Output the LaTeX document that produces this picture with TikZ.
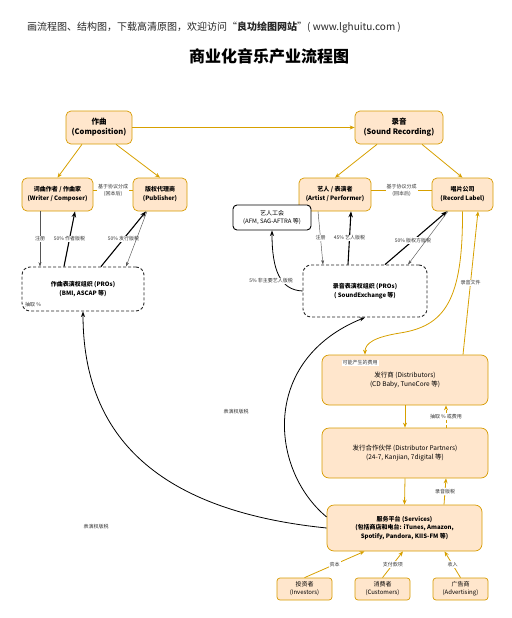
\documentclass[tikz,border=0pt]{standalone}
\usepackage{fontspec}
\setmainfont{Noto Sans CJK SC}
\usetikzlibrary{arrows.meta,calc}
\definecolor{boxfill}{HTML}{FFE6CC}
\definecolor{boxline}{HTML}{D79B00}
\definecolor{gold}{HTML}{D7A000}
\definecolor{lbl}{HTML}{333333}
\definecolor{thin}{HTML}{555555}
\begin{document}
\begin{tikzpicture}[x=1pt,y=-1pt,
  box/.style={draw=boxline, fill=boxfill, rounded corners=5pt, line width=0.7pt, align=center, inner sep=1pt},
  big/.style={box, font=\bfseries\fontsize{7.5}{10}\selectfont},
  mid/.style={box, font=\bfseries\fontsize{6}{9}\selectfont},
  soft/.style={box, rounded corners=7pt, font=\fontsize{6.5}{8.5}\selectfont},
  small/.style={box, rounded corners=3pt, font=\fontsize{6}{8}\selectfont},
  probox/.style={draw=black!85, dash pattern=on 3pt off 2pt, line width=0.9pt, rounded corners=8pt, fill=white, align=center, inner sep=1pt, font=\bfseries\fontsize{6}{9}\selectfont},
  unionbox/.style={draw=black, line width=0.9pt, rounded corners=4pt, fill=white, align=center, inner sep=1pt, minimum width=78, minimum height=25, font=\fontsize{6}{8.5}\selectfont},
  garrow/.style={draw=gold, line width=0.8pt, -{Stealth[length=5pt,width=4pt]}},
  gline/.style={draw=gold, line width=0.8pt},
  barrow/.style={draw=black, line width=1.1pt, -{Stealth[length=6pt,width=4.5pt]}},
  tarrow/.style={draw=thin, line width=0.45pt, -{Stealth[length=4.5pt,width=3pt]}},
  carrow/.style={draw=black, line width=0.8pt, -{Stealth[length=5.5pt,width=4pt]}},
  elabel/.style={font=\fontsize{5}{6.5}\selectfont, text=lbl, fill=white, inner sep=1pt, align=center},
  flabel/.style={font=\fontsize{5}{6.5}\selectfont, text=lbl, inner sep=1pt, align=center}
]
\useasboundingbox (0,0) rectangle (511,618);

% header and title
\node[anchor=west, inner sep=0pt, font=\fontsize{10}{12}\selectfont, text=black!85] (hdr) at (27,27)
  {画流程图、结构图，下载高清原图，欢迎访问“\textbf{良功绘图网站}”( www.lghuitu.com )};
\node[inner sep=0pt, font=\bfseries\fontsize{16}{18}\selectfont] (title) at (269,56) {商业化音乐产业流程图};

% nodes
\node[big, minimum width=66, minimum height=33] (comp) at (99,127.5) {作曲\\(Composition)};
\node[big, minimum width=88, minimum height=33] (rec) at (399,127.5) {录音\\(Sound Recording)};
\node[mid, minimum width=71, minimum height=33] (writer) at (57.5,194.5) {词曲作者 / 作曲家\\(Writer / Composer)};
\node[mid, minimum width=54, minimum height=33] (pub) at (160,194.5) {版权代理商\\(Publisher)};
\node[mid, minimum width=72, minimum height=33] (artist) at (335,194.5) {艺人 / 表演者\\(Artist / Performer)};
\node[mid, minimum width=61, minimum height=33] (label) at (462.5,194.5) {唱片公司\\(Record Label)};
\node[unionbox] (union) at (272,217.5) {艺人工会\\(AFM, SAG-AFTRA 等)};
\node[probox, minimum width=122, minimum height=44] (pro) at (83,289) {作曲表演权组织 (PROs)\\(BMI, ASCAP 等)};
\node[probox, minimum width=124, minimum height=52] (recpro) at (365,291) {录音表演权组织 (PROs)\\( SoundExchange 等)};
\node[soft, minimum width=166, minimum height=50] (dist) at (405,380) {发行商 (Distributors)\\(CD Baby, TuneCore 等)};
\node[soft, minimum width=166, minimum height=50] (partner) at (405,453) {发行合作伙伴 (Distributor Partners)\\(24-7, Kanjian, 7digital 等)};
\node[mid, rounded corners=7pt, minimum width=155, minimum height=46, font=\bfseries\fontsize{6}{8.5}\selectfont] (serv) at (404.5,528) {服务平台 (Services)\\(包括商店和电台: iTunes, Amazon,\\Spotify, Pandora, KIIS-FM 等)};
\node[small, minimum width=55, minimum height=22] (inv) at (304.5,589) {投资者\\(Investors)};
\node[small, minimum width=55, minimum height=22] (cust) at (382.5,589) {消费者\\(Customers)};
\node[small, minimum width=55, minimum height=22] (adv) at (460.5,589) {广告商\\(Advertising)};

% top gold connectors
\draw[garrow] ([xshift=-17pt]comp.south) -- (writer.north);
\draw[garrow] ([xshift=17pt]comp.south) -- (pub.north);
\draw[garrow] (comp.east) -- (rec.west);
\draw[garrow] ([xshift=-22pt]rec.south) -- (artist.north);
\draw[garrow] ([xshift=23pt]rec.south) -- (label.north);
\draw[gline] ([yshift=4pt]writer.east) -- node[elabel] {基于协议分成\\(回本后)} ([yshift=4pt]pub.west);
\draw[gline] ([yshift=4pt]artist.east) -- node[elabel] {基于协议分成\\(回本后)} ([yshift=4pt]label.west);

% composition side PRO
\draw[tarrow] ([xshift=-17.5pt]writer.south) -- node[elabel, pos=0.5] {注册} ([xshift=-43pt]pro.north);
\draw[barrow] ([xshift=-19pt]pro.north) -- node[elabel, pos=0.5] {50\% 作者版税} ([xshift=17.5pt]writer.south);
\draw[barrow] ([xshift=18pt]pro.north) -- node[elabel, pos=0.5] {50\% 发行版税} ([xshift=-14pt]pub.south);
\draw[tarrow] ([xshift=-13pt]pub.south) -- ([xshift=43pt]pro.north);
\node[flabel, anchor=west] (cut) at (24,305) {抽取 \%};

% recording side PRO
\draw[tarrow] ([xshift=-17pt]artist.south) -- node[elabel, pos=0.5] {注册} ([xshift=-42pt]recpro.north);
\draw[barrow] ([xshift=-17pt]recpro.north) -- node[elabel, pos=0.5] {45\% 艺人版税} ([xshift=16pt]artist.south);
\draw[barrow] ([xshift=20pt]recpro.north) -- node[elabel, pos=0.45] {50\% 版权方版税} ([xshift=-15.5pt]label.south);
\draw[tarrow] ([xshift=-14.5pt]label.south) -- ([xshift=43pt]recpro.north);
\draw[carrow] (recpro.west) .. controls (280,290) and (272,270) .. (union.south);
\node[elabel] (l5) at (271,281) {5\% 非主要艺人版税};

% label <-> distributors
\draw[garrow] (label.south) .. controls (463,300) and (445,326) .. (400,333) .. controls (375,337) and (365,343) .. ([xshift=-40pt]dist.north);
\draw[garrow] ([xshift=58pt]dist.north) -- node[elabel, pos=0.5] {录音文件} ([xshift=15.5pt]label.south);
\node[elabel] (fee) at (360,363) {可能产生的费用};

% distribution chain
\draw[garrow] (dist.south) -- (partner.north);
\draw[garrow, dash pattern=on 3pt off 2pt] ([xshift=41pt]partner.north) -- node[elabel] {抽取 \% 或费用} ([xshift=41pt]dist.south);
\draw[garrow] (partner.south) -- (serv.north);
\draw[garrow] ([xshift=39.5pt]serv.north) -- node[elabel] {录音版税} ([xshift=41pt]partner.south);

% funding sources
\draw[garrow] (inv.north) -- node[elabel] {资本} ([xshift=-40pt]serv.south);
\draw[garrow] (cust.north) -- node[elabel] {支付款项} ([xshift=-1.5pt]serv.south);
\draw[garrow] (adv.north) -- node[elabel] {收入} ([xshift=40pt]serv.south);

% performance royalties curves
\draw[carrow] ([yshift=11pt]serv.west) .. controls (270,470) and (260,360) .. (recpro.south);
\node[flabel] (pr1) at (236,412) {表演权版税};
\draw[carrow] (serv.west) .. controls (150,510) and (83,430) .. (pro.south);
\node[flabel] (pr2) at (96,527) {表演权版税};
\end{tikzpicture}
\end{document}
